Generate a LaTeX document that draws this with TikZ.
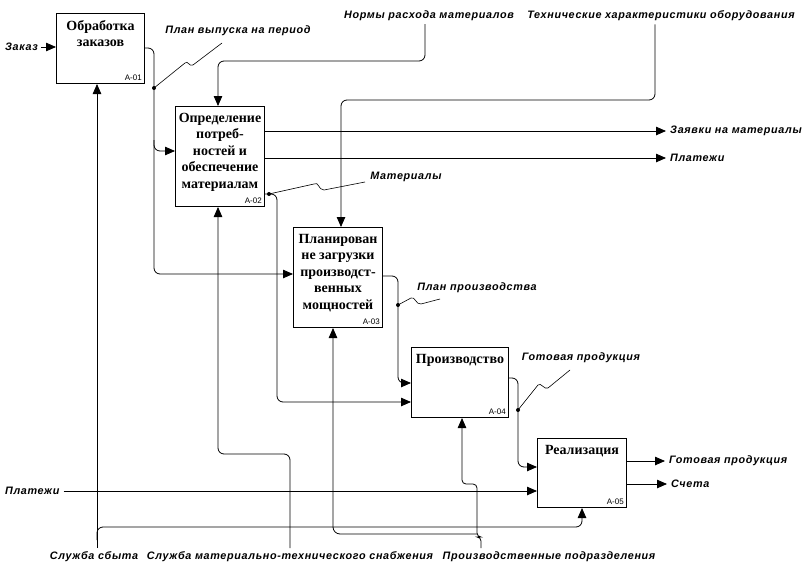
\documentclass[tikz,border=0pt]{standalone}
\usepackage{fontspec}
\setmainfont{Liberation Serif}
\newfontfamily\lblfont[LetterSpace=6]{Liberation Sans}
\newfontfamily\idfont{Liberation Sans}
\usetikzlibrary{arrows.meta,calc}
\begin{document}
\begin{tikzpicture}[x=1pt,y=-1pt,
  box/.style={draw, line width=1pt, anchor=north west, inner sep=0pt},
  title/.style={font=\bfseries\fontsize{14}{16.5}\selectfont, align=center, inner sep=0pt, anchor=north},
  boxid/.style={font=\idfont\fontsize{8}{9}\selectfont, inner sep=0pt, anchor=south east},
  lbl/.style={font=\lblfont\bfseries\itshape\fontsize{10.8}{12}\selectfont, inner sep=0pt},
  arr/.style={line width=0.8pt, -{Triangle[length=10pt,width=8.5pt]}, rounded corners=6pt},
  lead/.style={line width=0.6pt},
  dot/.style={circle, fill, inner sep=0pt, minimum size=4pt}]
\useasboundingbox (0,0) rectangle (807,570);
\fill[white] (0,0) rectangle (807,570);
% boxes
\node[box, minimum width=88pt, minimum height=70pt] (a1) at (56,13) {};
\node[box, minimum width=89pt, minimum height=100pt] (a2) at (175,106) {};
\node[box, minimum width=89pt, minimum height=100pt] (a3) at (293,227) {};
\node[box, minimum width=97pt, minimum height=70pt] (a4) at (411,347) {};
\node[box, minimum width=89pt, minimum height=69pt] (a5) at (537,438) {};
\node[title] (t1) at ($(a1.north)+(0,7)$) {Обработка\\заказов};
\node[title] (t2) at ($(a2.north)+(0,7)$) {Определение\\потреб-\\ностей и\\обеспечение\\материалам};
\node[title] (t3) at ($(a3.north)+(0,7)$) {Планирован\\не загрузки\\производст-\\венных\\мощностей};
\node[title] (t4) at ($(a4.north)+(0,7)$) {Производство};
\node[title] (t5) at ($(a5.north)+(0,7)$) {Реализация};
\node[boxid] (i1) at ($(a1.south east)+(-3,-3)$) {A-01};
\node[boxid] (i2) at ($(a2.south east)+(-3,-3)$) {A-02};
\node[boxid] (i3) at ($(a3.south east)+(-3,-3)$) {A-03};
\node[boxid] (i4) at ($(a4.south east)+(-3,-3)$) {A-04};
\node[boxid] (i5) at ($(a5.south east)+(-3,-3)$) {A-05};
% labels
\node[lbl, anchor=east] (lZak) at (38,47) {Заказ};
\node[lbl] (lPlan) at (238,31) {План выпуска на период};
\node[lbl] (lNorm) at (429,16) {Нормы расхода материалов};
\node[lbl] (lTech) at (661,16) {Технические характеристики оборудования};
\node[lbl, anchor=west] (lZay) at (670,131) {Заявки на материалы};
\node[lbl, anchor=west] (lPl1) at (670,158) {Платежи};
\node[lbl] (lMat) at (406,177) {Материалы};
\node[lbl] (lPP) at (477,288) {План производства};
\node[lbl] (lGP1) at (581,358) {Готовая продукция};
\node[lbl, anchor=west] (lGP2) at (669,461) {Готовая продукция};
\node[lbl, anchor=west] (lSch) at (671,484) {Счета};
\node[lbl, anchor=west] (lPl2) at (5,491) {Платежи};
\node[lbl] (lSb) at (94,557) {Служба сбыта};
\node[lbl] (lMts) at (290,557) {Служба материально-технического снабжения};
\node[lbl] (lPod) at (549,557) {Производственные подразделения};
% free ends
\coordinate (sb) at (97,548);
\coordinate (mts) at (290,548);
\coordinate (pod) at (481,548);
% inputs / controls
\draw[arr] ($(lZak.east)+(3,0)$) -- (a1.west |- 0,47);
\draw[arr] ($(lNorm.south)+(-4,3)$) -- (425,61) -- (218,61) -- (a2.north -| 218,0);
\draw[arr] ($(lTech.south)+(-6,3)$) -- (655,100) -- (341,100) -- (a3.north -| 341,0);
\draw[arr] ($(lPl2.east)+(4,0)$) -- (a5.west |- 0,491);
% A-01 output
\draw[arr] (a1.east |- 0,48) -- (154,48) -- (154,274) -- (a3.west |- 0,274);
\draw[arr] (154,140) -- (154,151) -- (a2.west |- 0,151);
\node[dot] (d1) at (154,88) {};
\draw[lead] (d1.center) -- (185,63) .. controls (188,60) and (189,67) .. (193,65) -- (222,43);
% A-02 outputs
\draw[arr] (a2.east |- 0,131) -- ($(lZay.west)+(-4,0)$);
\draw[arr] (a2.east |- 0,158) -- ($(lPl1.west)+(-4,0)$);
\draw[arr] (a2.east |- 0,194) -- (277,194) -- (277,402) -- (a4.west |- 0,402);
\node[dot] (d2) at (269,194) {};
\draw[lead] (d2.center) -- (314,184) .. controls (319,181) and (318,190) .. (324,190) -- (365,182);
% A-03 output
\draw[arr] (a3.east |- 0,276) -- (398,276) -- (398,383) -- (a4.west |- 0,383);
\node[dot] (d3) at (398,305) {};
\draw[lead] (d3.center) -- (411,298) .. controls (415,296) and (416,305) .. (421,304) -- (440,299);
% A-04 output
\draw[arr] (a4.east |- 0,378) -- (518,378) -- (518,467) -- (a5.west |- 0,467);
\node[dot] (d4) at (518,410) {};
\draw[lead] (d4.center) -- (538,385) .. controls (541,382) and (544,390) .. (548,388) -- (570,370);
% A-05 outputs
\draw[arr] (a5.east |- 0,461) -- ($(lGP2.west)+(-4,0)$);
\draw[arr] (a5.east |- 0,484) -- ($(lSch.west)+(-4,0)$);
% mechanisms
\draw[arr] (sb) -- (a1.south -| 97,0);
\draw[arr] (97,540) -- (97,527) -- (582,527) -- (a5.south -| 582,0);
\draw[arr] (mts) -- (290,454) -- (218,454) -- (a2.south -| 218,0);
\draw[arr, rounded corners=4pt] (pod) -- (481,537) -- (477,537) -- (477,484) -- (462,484) -- (a4.south -| 462,0);
\draw[arr, rounded corners=7pt] (477,534) -- (333,534) -- (a3.south -| 333,0);
\end{tikzpicture}
\end{document}
